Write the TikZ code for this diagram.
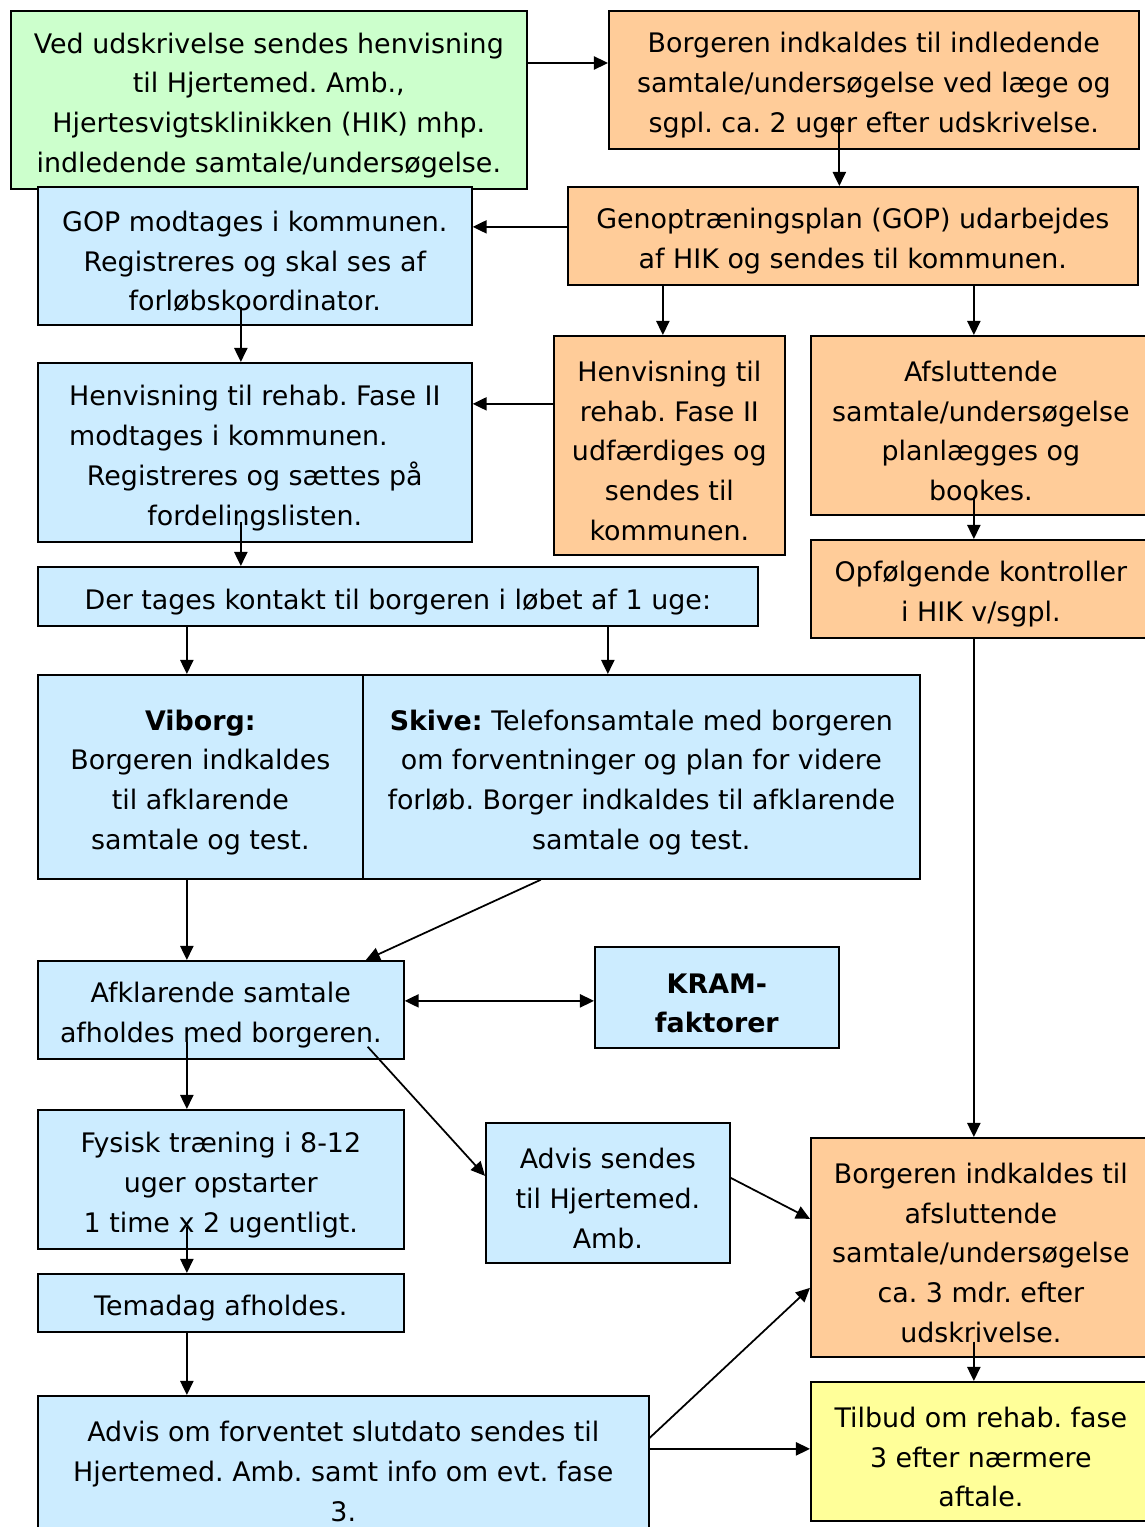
\documentclass[tikz,border=0pt]{standalone}
\usepackage{fontspec}
\setmainfont{DejaVu Sans}
\usepackage{calc}
\usepackage{tikz}
\usetikzlibrary{arrows.meta}
\frenchspacing
\definecolor{grn}{HTML}{CCFFCC}
\definecolor{org}{HTML}{FFCC99}
\definecolor{blu}{HTML}{CCECFF}
\definecolor{ylw}{HTML}{FFFF99}
\newcommand\bxs{\rule{0pt}{18pt}}
\tikzset{box/.style={draw,line width=1pt,inner sep=0pt,align=center,anchor=north west,
    font=\fontsize{15.3}{22.7}\selectfont},
  greenbox/.style={box,fill=grn},
  orangebox/.style={box,fill=org},
  bluebox/.style={box,fill=blu},
  yellowbox/.style={box,fill=ylw}}

\begin{document}
\begin{tikzpicture}[x=0.02cm,y=-0.02cm,>={Triangle[length=8pt,width=7.5pt]},line width=1pt]
  \useasboundingbox (0,0) rectangle (1145,1527);
  \node[greenbox,minimum width=10.32cm,minimum height=3.56cm] (udskr) at (10,10)
    {\bxs Ved udskrivelse sendes henvisning\\til Hjertemed. Amb.,\\Hjertesvigtsklinikken (HIK) mhp.\\indledende samtale/undersøgelse.};
  \node[orangebox,minimum width=10.6cm,minimum height=2.76cm] (indk) at (608,10)
    {\bxs Borgeren indkaldes til indledende\\samtale/undersøgelse ved læge og\\sgpl. ca. 2 uger efter udskrivelse.};
  \node[bluebox,minimum width=8.68cm,minimum height=2.76cm] (gop) at (37,186)
    {\bxs GOP modtages i kommunen.\\Registreres og skal ses af\\forløbskoordinator.};
  \node[orangebox,minimum width=11.4cm,minimum height=1.96cm] (plan) at (567,186)
    {\bxs Genoptræningsplan (GOP) udarbejdes\\af HIK og sendes til kommunen.};
  \node[bluebox,minimum width=8.68cm,minimum height=3.58cm] (henv) at (37,362)
    {\bxs Henvisning til rehab. Fase II\\\makebox[\widthof{Henvisning til rehab. Fase II}][l]{modtages i kommunen.}\\Registreres og sættes på\\fordelingslisten.};
  \node[orangebox,minimum width=4.62cm,minimum height=4.38cm] (udf) at (553,335)
    {\bxs Henvisning til\\rehab. Fase II\\udfærdiges og\\sendes til\\kommunen.};
  \node[orangebox,minimum width=6.8cm,minimum height=3.58cm] (afsl) at (810,335)
    {\bxs Afsluttende\\samtale/undersøgelse\\planlægges og\\bookes.};
  \node[orangebox,minimum width=6.8cm,minimum height=1.96cm] (opf) at (810,539)
    {\bxs Opfølgende kontroller\\i HIK v/sgpl.};
  \node[bluebox,minimum width=14.4cm,minimum height=1.18cm] (kont) at (37,566)
    {\bxs Der tages kontakt til borgeren i løbet af 1 uge:};
  \node[bluebox,minimum width=6.5cm,minimum height=4.08cm] (viborg) at (37,674)
    {\bxs\textbf{Viborg:}\\Borgeren indkaldes\\til afklarende\\samtale og test.};
  \node[bluebox,minimum width=11.14cm,minimum height=4.08cm] (skive) at (362,674)
    {\bxs\textbf{Skive:} Telefonsamtale med borgeren\\om forventninger og plan for videre\\forløb. Borger indkaldes til afklarende\\samtale og test.};
  \node[bluebox,minimum width=7.32cm,minimum height=1.96cm] (afkl) at (37,960)
    {\bxs Afklarende samtale\\afholdes med borgeren.};
  \node[bluebox,minimum width=4.88cm,minimum height=2.02cm] (kram) at (594,946)
    {\bxs\textbf{KRAM-}\\\textbf{faktorer}};
  \node[bluebox,minimum width=7.32cm,minimum height=2.78cm] (fys) at (37,1109)
    {\bxs Fysisk træning i 8-12\\uger opstarter\\1 time x 2 ugentligt.};
  \node[bluebox,minimum width=4.88cm,minimum height=2.8cm] (advis) at (485,1122)
    {\bxs Advis sendes\\til Hjertemed.\\Amb.};
  \node[orangebox,minimum width=6.8cm,minimum height=4.38cm] (borg) at (810,1137)
    {\bxs Borgeren indkaldes til\\afsluttende\\samtale/undersøgelse\\ca. 3 mdr. efter\\udskrivelse.};
  \node[bluebox,minimum width=7.32cm,minimum height=1.16cm] (tema) at (37,1273)
    {\bxs Temadag afholdes.};
  \node[bluebox,minimum width=12.22cm,minimum height=2.8cm] (slut) at (37,1395)
    {\bxs Advis om forventet slutdato sendes til\\Hjertemed. Amb. samt info om evt. fase\\3.};
  \node[yellowbox,minimum width=6.8cm,minimum height=2.78cm] (tilb) at (810,1381)
    {\bxs Tilbud om rehab. fase\\3 efter nærmere\\aftale.};

  \draw[->] (udskr.east |- 0,63) -- (indk.west |- 0,63);
  \draw[->] ([xshift=-0.69cm,yshift=0.66cm]indk.south) -- ([xshift=-0.69cm]indk.south |- plan.north);
  \draw[->] ([yshift=0.18cm]plan.west) -- ([yshift=0.18cm]plan.west -| gop.east);
  \draw[->] ([xshift=-0.28cm,yshift=0.38cm]gop.south) -- ([xshift=-0.28cm]gop.south |- henv.north);
  \draw[->] ([xshift=-0.13cm]udf.north |- plan.south) -- ([xshift=-0.13cm]udf.north);
  \draw[->] ([xshift=-0.14cm]afsl.north |- plan.south) -- ([xshift=-0.14cm]afsl.north);
  \draw[->] ([yshift=0.83cm]udf.west) -- ([yshift=0.83cm]udf.west -| henv.east);
  \draw[->] ([xshift=-0.28cm,yshift=0.42cm]henv.south) -- ([xshift=-0.28cm]henv.south |- kont.north);
  \draw[->] ([xshift=-0.14cm,yshift=0.38cm]afsl.south) -- ([xshift=-0.14cm]afsl.south |- opf.north);
  \draw[->] ([xshift=-0.27cm]viborg.north |- kont.south) -- ([xshift=-0.27cm]viborg.north);
  \draw[->] ([xshift=-0.67cm]skive.north |- kont.south) -- ([xshift=-0.67cm]skive.north);
  \draw[->] ([xshift=-0.27cm]viborg.south) -- ([xshift=-0.27cm]viborg.south |- afkl.north);
  \draw[->] ([xshift=-2.01cm]skive.south) -- ([xshift=2.9cm]afkl.north);
  \draw[<->] ([yshift=0.18cm]afkl.east) -- ([yshift=0.18cm]afkl.east -| kram.west);
  \draw[->] ([xshift=-0.68cm,yshift=0.36cm]afkl.south) -- ([xshift=-0.68cm]afkl.south |- fys.north);
  \draw[->] ([xshift=-0.74cm,yshift=0.26cm]afkl.south east) -- ([yshift=0.34cm]advis.west);
  \draw[->] ([xshift=-0.68cm,yshift=0.46cm]fys.south) -- ([xshift=-0.68cm]fys.south |- tema.north);
  \draw[->] ([xshift=-0.68cm]tema.south) -- ([xshift=-0.68cm]tema.south |- slut.north);
  \draw[->] ([yshift=0.3cm]advis.east) -- ([yshift=0.57cm]borg.west);
  \draw[->] ([xshift=-0.14cm]opf.south) -- ([xshift=-0.14cm]borg.north);
  \draw[->] ([yshift=0.56cm]slut.east) -- ([yshift=-0.81cm]borg.west);
  \draw[->] ([yshift=0.05cm]tilb.west -| slut.east) -- ([yshift=0.05cm]tilb.west);
  \draw[->] ([xshift=-0.14cm,yshift=0.32cm]borg.south) -- ([xshift=-0.14cm]tilb.north);
\end{tikzpicture}
\end{document}
